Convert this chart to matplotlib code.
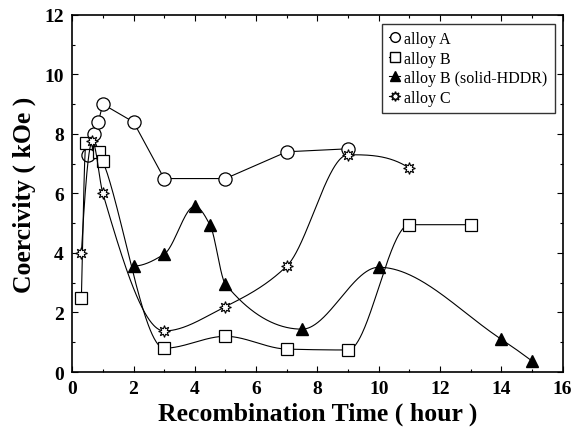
import numpy as np
import matplotlib
matplotlib.use("Agg")
import matplotlib.pyplot as plt
from matplotlib.lines import Line2D

# ---- data ----
a_x = [0.5, 0.7, 0.85, 1.0, 2.0, 3.0, 5.0, 7.0, 9.0]
a_y = [7.3, 8.0, 8.4, 9.0, 8.4, 6.5, 6.5, 7.4, 7.5]

b_x = [0.3, 0.45, 0.88, 1.0, 3.0, 5.0, 7.0, 9.0, 11.0, 13.0]
b_y = [2.5, 7.7, 7.4, 7.1, 0.8, 1.2, 0.77, 0.74, 4.95, 4.95]

bs_x = [2.0, 3.0, 4.0, 4.5, 5.0, 7.5, 10.0, 14.0, 15.0]
bs_y = [3.56, 3.96, 5.57, 4.93, 2.95, 1.44, 3.52, 1.1, 0.37]

c_x = [0.3, 0.66, 1.0, 3.0, 5.0, 7.0, 9.0, 11.0]
c_y = [4.0, 7.75, 6.0, 1.38, 2.2, 3.56, 7.3, 6.85]

labels = ["alloy A", "alloy B", "alloy B (solid-HDDR)", "alloy C"]


def pchip(xs, ys, n=600):
    x = np.asarray(xs, float)
    y = np.asarray(ys, float)
    h = np.diff(x)
    d = np.diff(y) / h
    k = len(x)
    m = np.zeros(k)
    for i in range(1, k - 1):
        if d[i - 1] * d[i] <= 0:
            m[i] = 0.0
        else:
            w1 = 2 * h[i] + h[i - 1]
            w2 = h[i] + 2 * h[i - 1]
            m[i] = (w1 + w2) / (w1 / d[i - 1] + w2 / d[i])

    def end(h0, h1, d0, d1):
        v = ((2 * h0 + h1) * d0 - h0 * d1) / (h0 + h1)
        if np.sign(v) != np.sign(d0):
            v = 0.0
        elif np.sign(d0) != np.sign(d1) and abs(v) > abs(3 * d0):
            v = 3 * d0
        return v

    m[0] = end(h[0], h[1], d[0], d[1])
    m[-1] = end(h[-1], h[-2], d[-1], d[-2])
    xx = np.linspace(x[0], x[-1], n)
    idx = np.clip(np.searchsorted(x, xx) - 1, 0, k - 2)
    hh = h[idx]
    s = (xx - x[idx]) / hh
    h00 = 1 - 3 * s ** 2 + 2 * s ** 3
    h10 = s - 2 * s ** 2 + s ** 3
    h01 = 3 * s ** 2 - 2 * s ** 3
    h11 = s ** 3 - s ** 2
    yy = h00 * y[idx] + h10 * hh * m[idx] + h01 * y[idx + 1] + h11 * hh * m[idx + 1]
    return xx, yy


plt.rcParams['font.family'] = ['Liberation Serif', 'DejaVu Serif']

fig = plt.figure(figsize=(5.73, 4.35), dpi=100)
ax = fig.add_axes([0.126, 0.1425, 0.856, 0.821])

lw = 0.8
ax.plot(a_x, a_y, color='black', lw=lw, marker='o', ms=9.5, mfc='white', mec='black', mew=0.9)

sx, sy = pchip(b_x, b_y)
ax.plot(sx, sy, color='black', lw=lw)
ax.plot(b_x, b_y, ls='none', marker='s', ms=8, mfc='white', mec='black', mew=0.9)

sx, sy = pchip(bs_x, bs_y)
ax.plot(sx, sy, color='black', lw=lw)
ax.plot(bs_x, bs_y, ls='none', marker='^', ms=9, mfc='black', mec='black')

sx, sy = pchip(c_x, c_y)
ax.plot(sx, sy, color='black', lw=lw)
ax.plot(c_x, c_y, ls='none', marker=(8, 1, 0), ms=8.5, mfc='white', mec='black', mew=0.8)

ax.set_xlim(0, 16)
ax.set_ylim(0, 12)
ax.set_xticks(range(0, 17, 2))
ax.set_yticks(range(0, 13, 2))
ax.set_xticks(range(0, 17, 1), minor=True)
ax.set_yticks(range(0, 13, 1), minor=True)
ax.tick_params(which='both', direction='in', top=True, right=True)
ax.tick_params(which='major', length=4, width=0.8, labelsize=14, pad=6)
ax.tick_params(which='minor', length=2.5, width=0.8)
for lab in ax.get_xticklabels() + ax.get_yticklabels():
    lab.set_fontweight('bold')
for s in ax.spines.values():
    s.set_linewidth(1.2)

ax.set_xlabel("Recombination Time ( hour )", fontsize=18.5, fontweight='bold', labelpad=3)
ax.set_ylabel("Coercivity ( kOe )", fontsize=18.5, fontweight='bold', labelpad=6)

handles = [
    Line2D([], [], color='black', lw=lw, marker='o', ms=7, mfc='white', mec='black'),
    Line2D([], [], color='black', lw=lw, marker='s', ms=6.5, mfc='white', mec='black'),
    Line2D([], [], color='black', lw=lw, marker='^', ms=7, mfc='black', mec='black'),
    Line2D([], [], color='black', lw=lw, marker=(8, 1, 0), ms=7, mfc='white', mec='black'),
]
leg = ax.legend(handles, labels, loc='upper right', bbox_to_anchor=(0.984, 0.975),
                prop={'size': 11.5}, handlelength=0.7, handletextpad=0.25, labelspacing=0.22,
                borderpad=0.45, borderaxespad=0.0, frameon=True, fancybox=False, edgecolor='black')
leg.get_frame().set_linewidth(1.0)

fig.savefig("out.png", dpi=100)
